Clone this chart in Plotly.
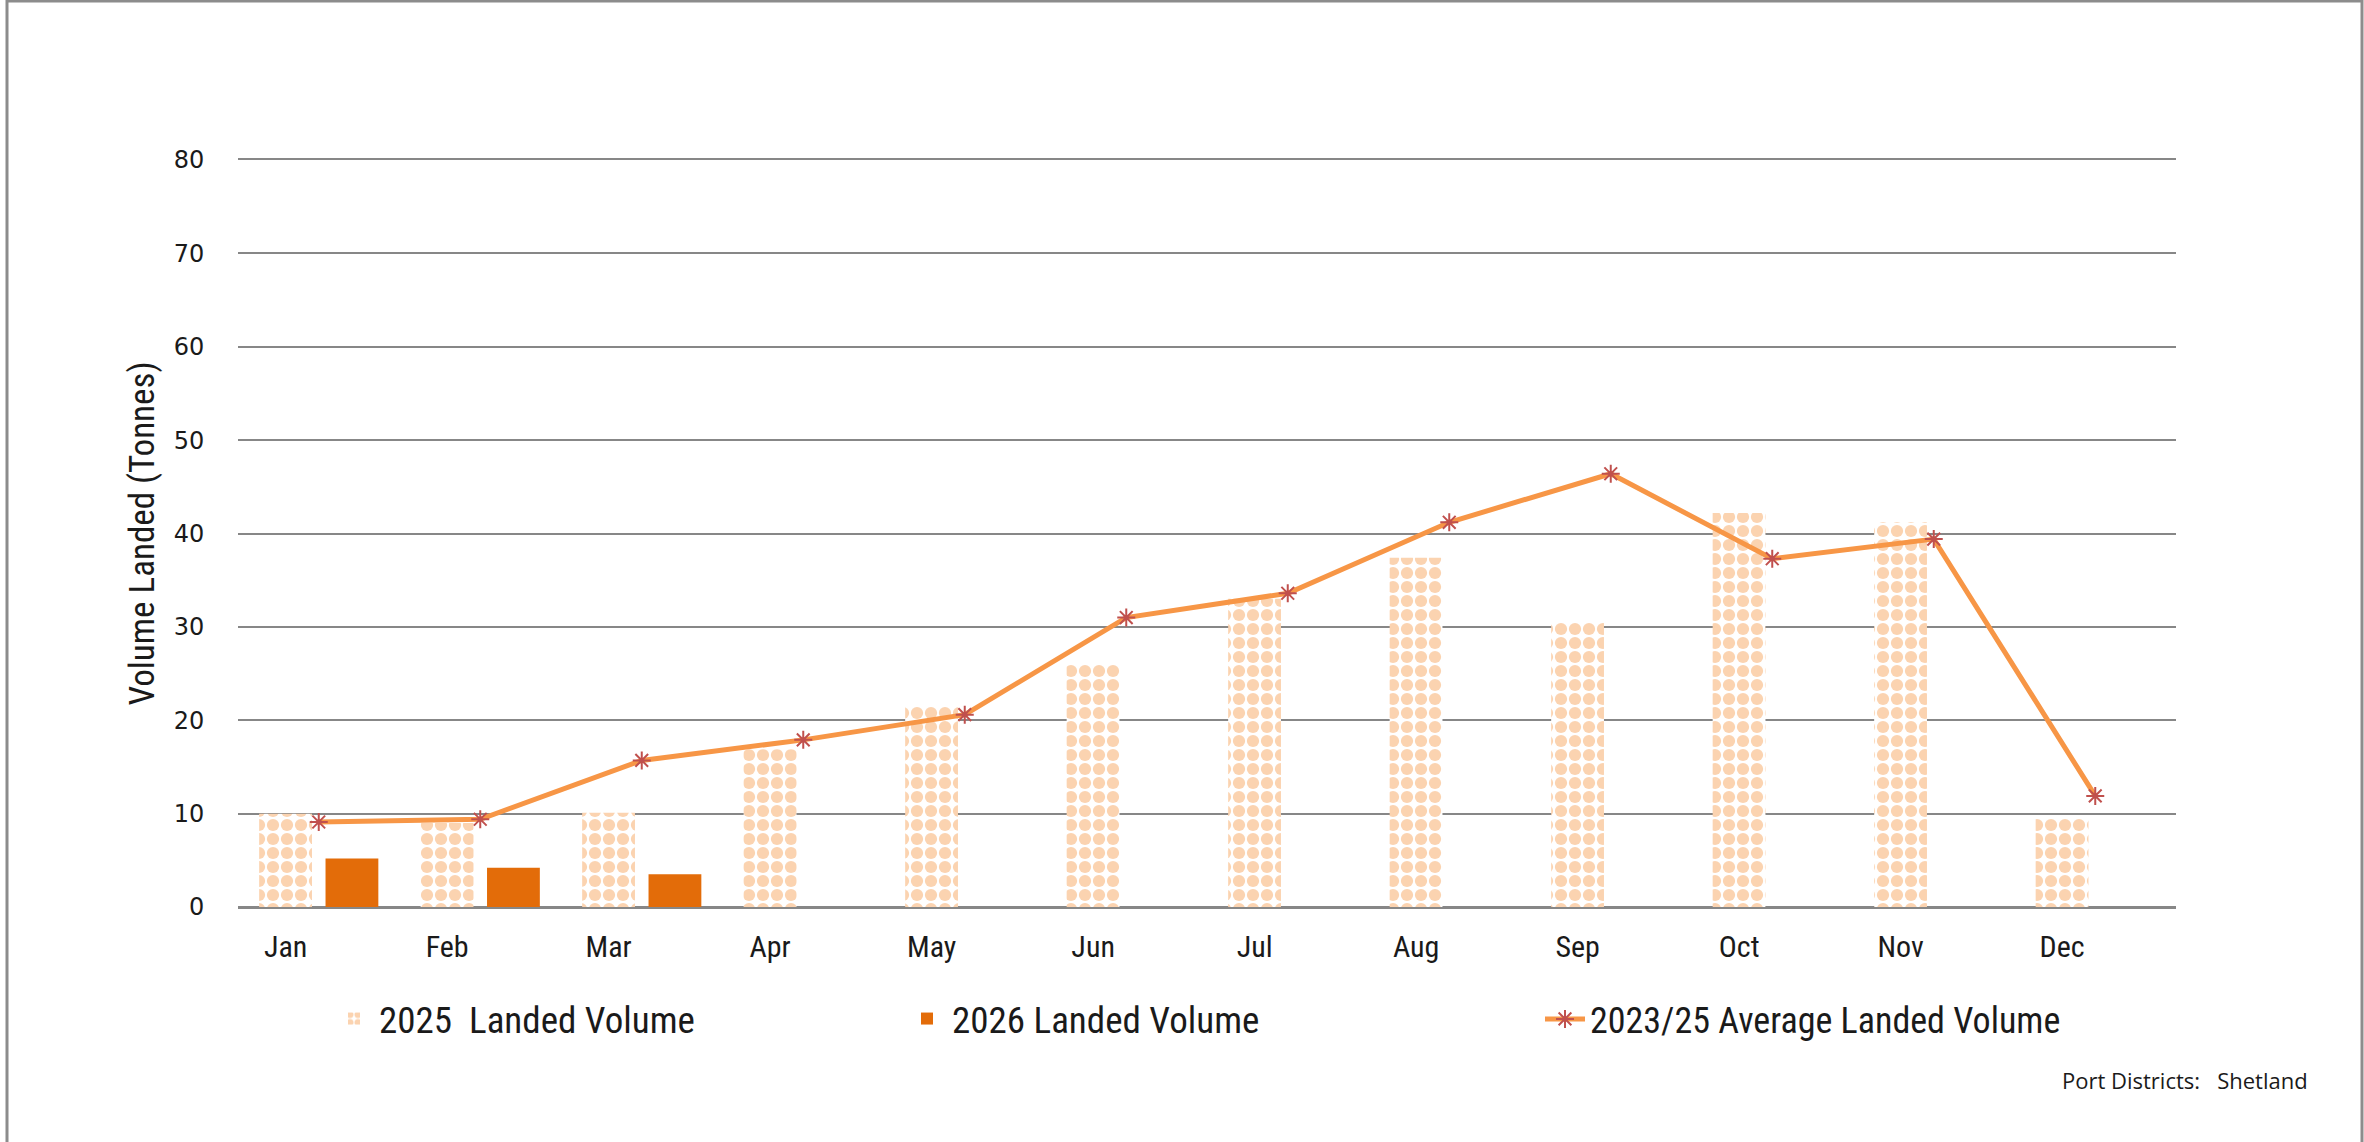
import plotly.graph_objects as go

months = ["Jan", "Feb", "Mar", "Apr", "May", "Jun", "Jul", "Aug", "Sep", "Oct", "Nov", "Dec"]
landed_2025 = [10.0, 9.0, 10.1, 16.9, 21.6, 26.1, 33.0, 37.4, 30.6, 42.2, 41.2, 9.5]
landed_2026 = [5.2, 4.2, 3.5]
avg_2023_25 = [9.1, 9.4, 15.7, 17.9, 20.6, 31.0, 33.6, 41.2, 46.4, 37.3, 39.4, 11.9]
y_ticks = [0, 10, 20, 30, 40, 50, 60, 70, 80]

W, H = 2364, 1142
ML, MR, MT, MB = 238, 188, 160, 235
PW, PH = W - ML - MR, H - MT - MB

PEACH = "#FBD3B0"
DARK_ORANGE = "#E36C09"
LINE_ORANGE = "#F79646"
MARKER_RED = "#C0504D"
GRID = "#878787"
TEXT = "#1a1a1a"
NARROW = "Liberation Sans Narrow, Arial Narrow, Roboto Condensed, sans-serif"

bar_w = 0.327
idx = list(range(len(months)))

fig = go.Figure()
fig.add_trace(go.Bar(
    x=idx, y=landed_2025, name="2025  Landed Volume", legend="legend",
    width=bar_w, offset=-0.369,
    marker=dict(
        color="white",
        line=dict(width=0),
        pattern=dict(shape=".", fgcolor=PEACH, bgcolor="white",
                     size=14, solidity=0.6, fillmode="replace"),
    ),
))
fig.add_trace(go.Bar(
    x=idx[:len(landed_2026)], y=landed_2026, name="2026 Landed Volume",
    legend="legend2",
    width=bar_w, offset=0.042,
    marker=dict(color=DARK_ORANGE, line=dict(width=0)),
))
fig.add_trace(go.Scatter(
    x=idx, y=avg_2023_25, name="2023/25 Average Landed Volume",
    legend="legend3",
    mode="lines+markers",
    line=dict(color=LINE_ORANGE, width=5),
    marker=dict(symbol="asterisk-open", size=15, color=MARKER_RED,
                line=dict(color=MARKER_RED, width=2)),
))

# labels in the reference sit under the 2025 bars, not the group centre
label_shift = -0.205

legend_y = -(1019 - (MT + PH)) / PH


def legend_at(px, size=37):
    return dict(
        orientation="h", x=(px - ML) / PW, y=legend_y,
        xanchor="left", yanchor="middle",
        font=dict(family=NARROW, size=size, color=TEXT),
        itemwidth=40, bgcolor="rgba(0,0,0,0)",
    )


fig.update_layout(
    width=W, height=H,
    margin=dict(l=ML, r=MR, t=MT, b=MB),
    paper_bgcolor="white", plot_bgcolor="white",
    barmode="overlay",
    showlegend=True,
    legend=legend_at(329),
    legend2=legend_at(902),
    legend3=legend_at(1540, 36),
    xaxis=dict(
        range=[-0.5, 11.5],
        tickvals=[i + label_shift for i in idx], ticktext=months,
        showgrid=False, zeroline=False,
        showline=True, mirror=True, linecolor=GRID, linewidth=2,
        ticks="outside", ticklen=12, tickcolor="rgba(0,0,0,0)",
        tickfont=dict(family=NARROW, size=30, color=TEXT),
    ),
    yaxis=dict(
        range=[0, 80], tickvals=y_ticks,
        showgrid=True, gridcolor=GRID, gridwidth=2,
        zeroline=True, zerolinecolor=GRID, zerolinewidth=2,
        showline=False,
        ticks="outside", ticklen=28, tickcolor="rgba(0,0,0,0)",
        tickfont=dict(family="DejaVu Sans", size=24, color=TEXT),
        title=dict(text="Volume Landed (Tonnes)", standoff=8,
                   font=dict(family=NARROW, size=35, color=TEXT)),
    ),
    annotations=[dict(
        text="Port Districts:   Shetland",
        xref="paper", yref="paper",
        x=(2310 - ML) / PW, y=-(1080 - (MT + PH)) / PH,
        xanchor="right", yanchor="middle", showarrow=False,
        font=dict(family="Open Sans", size=22, color=TEXT),
    )],
    shapes=[dict(
        type="rect", xref="paper", yref="paper", layer="above",
        x0=(7 - ML) / PW, x1=(2362 - ML) / PW,
        y0=-(1150 - (MT + PH)) / PH, y1=(MT + PH - 1) / PH,
        line=dict(color="#8c8c8c", width=3), fillcolor="rgba(0,0,0,0)",
    )],
)

fig.write_html(
    "out.html",
    config={"displayModeBar": False},
    post_script="document.body.style.margin='0';",
)
